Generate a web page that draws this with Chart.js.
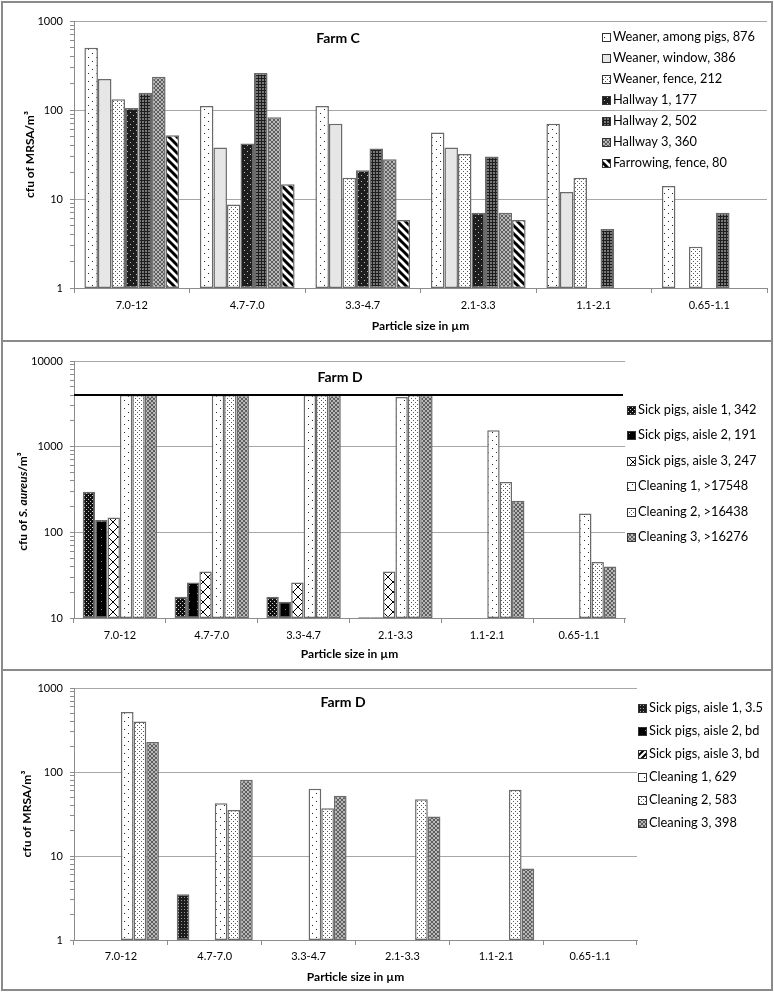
<!DOCTYPE html>
<html>
<head>
<meta charset="utf-8">
<script src="https://cdn.jsdelivr.net/npm/chart.js@4.4.0/dist/chart.umd.min.js"></script>
<style>
  body { margin: 0; background: #fff; }
  #page { position: relative; width: 774px; height: 992px; overflow: hidden; }
  .panel { position: absolute; left: 1px; width: 772px; border: 2px solid #8a8a8a; box-sizing: border-box; }
  canvas { position: absolute; left: 3px; }
</style>
</head>
<body>
<div id="page">
  <div class="panel" style="top:1px;height:341px"></div>
  <div class="panel" style="top:340px;height:331px"></div>
  <div class="panel" style="top:669px;height:322px"></div>
  <canvas id="farmC" width="768" height="337" style="top:3px"></canvas>
  <canvas id="farmDaureus" width="768" height="327" style="top:342px"></canvas>
  <canvas id="farmDmrsa" width="768" height="321" style="top:671px"></canvas>
</div>
<script>
// particle size classes (x axis)
var sizeBins = ['7.0-12', '4.7-7.0', '3.3-4.7', '2.1-3.3', '1.1-2.1', '0.65-1.1'];
var xTitle = 'Particle size in µm';

// Farm C, MRSA (cfu/m3)
var farmCLabels = ['Weaner, among pigs, 876', 'Weaner, window, 386', 'Weaner, fence, 212',
  'Hallway 1, 177', 'Hallway 2, 502', 'Hallway 3, 360', 'Farrowing, fence, 80'];
var weanerAmongPigs = [500, 111, 111, 56, 70, 14];
var weanerWindow    = [223, 38, 70, 38, 12, null];
var weanerFence     = [132, 8.7, 17.3, 32, 17.3, 2.9];
var hallway1        = [105, 42, 21, 7, null, null];
var hallway2        = [156, 260, 37, 30, 4.6, 7];
var hallway3        = [237, 83, 28, 7, null, null];
var farrowingFence  = [52, 14.6, 5.8, 5.8, null, null];

// Farm D, S. aureus (cfu/m3), cleaning bars are cut at the upper limit
var farmDAureusLabels = ['Sick pigs, aisle 1, 342', 'Sick pigs, aisle 2, 191', 'Sick pigs, aisle 3, 247',
  'Cleaning 1, >17548', 'Cleaning 2, >16438', 'Cleaning 3, >16276'];
var aureusAisle1   = [297, 17.7, 17.7, 10.2, null, null];
var aureusAisle2   = [139, 26, 15.5, 10.2, null, null];
var aureusAisle3   = [149, 35, 26, 35, null, null];
var aureusCleaning1 = [4000, 4000, 4000, 3800, 1550, 166];
var aureusCleaning2 = [4000, 4000, 4000, 4000, 388, 45];
var aureusCleaning3 = [4000, 4000, 4000, 4000, 233, 40];
var upperLimit = 4000;

// Farm D, MRSA (cfu/m3)
var farmDMrsaLabels = ['Sick pigs, aisle 1, 3.5', 'Sick pigs, aisle 2, bd', 'Sick pigs, aisle 3, bd',
  'Cleaning 1, 629', 'Cleaning 2, 583', 'Cleaning 3, 398'];
var mrsaAisle1    = [null, 3.5, null, null, null, null];
var mrsaAisle2    = [null, null, null, null, null, null];
var mrsaAisle3    = [null, null, null, null, null, null];
var mrsaCleaning1 = [518, 42.6, 63, null, null, null];
var mrsaCleaning2 = [400, 35.4, 37, 47.5, 61.4, null];
var mrsaCleaning3 = [227, 80.7, 52, 29.5, 7.1, null];

var FONT = 'Lato';
Chart.defaults.font.family = FONT;
Chart.defaults.color = '#000';

// fill patterns
function makePattern(size, bg, draw) {
  var c = document.createElement('canvas');
  c.width = size; c.height = size;
  var g = c.getContext('2d');
  g.fillStyle = bg;
  g.fillRect(0, 0, size, size);
  if (draw) draw(g);
  return g.createPattern(c, 'repeat');
}
function dots(pts, color) {
  return function (g) {
    g.fillStyle = color;
    pts.forEach(function (p) { g.fillRect(p[0], p[1], 1, 1); });
  };
}
function diag(size, width, down) {
  return function (g) {
    g.strokeStyle = '#000';
    g.lineWidth = width;
    g.beginPath();
    for (var k = -1; k <= 1; k++) {
      if (down) { g.moveTo(k * size - 1, -1); g.lineTo(k * size + size + 1, size + 1); }
      else { g.moveTo(k * size - 1, size + 1); g.lineTo(k * size + size + 1, -1); }
    }
    g.stroke();
  };
}

var pSparse  = makePattern(8, '#fff', dots([[1, 2], [5, 6]], '#222'));
var pDense   = makePattern(4, '#fff', dots([[0, 0], [2, 2]], '#555'));
var pWindow  = '#e6e6e6';
var pHall1   = makePattern(6, '#1e1e1e', dots([[1, 1], [4, 4]], '#bbb'));
var pHall2   = makePattern(3, '#787878', function (g) { g.fillStyle = '#1e1e1e'; g.fillRect(0, 0, 3, 1); g.fillRect(0, 0, 1, 3); });
var pChecker = makePattern(4, '#5e5e5e', function (g) { g.fillStyle = '#b8b8b8'; g.fillRect(0, 0, 2, 2); g.fillRect(2, 2, 2, 2); });
var pStripes = makePattern(8, '#fff', diag(8, 3, true));
var pBlackDots = makePattern(4, '#111', dots([[1, 1], [3, 3]], '#d0d0d0'));
var pBlack   = makePattern(8, '#000', dots([[2, 3]], '#888'));
var pCross   = makePattern(10, '#fff', function (g) {
  g.strokeStyle = '#000'; g.lineWidth = 1; g.beginPath();
  g.moveTo(0, 0); g.lineTo(10, 10); g.moveTo(10, 0); g.lineTo(0, 10); g.stroke();
});
var pDarkGrid = makePattern(3, '#1c1c1c', dots([[1, 1]], '#9a9a9a'));
var pUp      = makePattern(6, '#fff', diag(6, 2, false));

function isPow10(v) {
  var l = Math.log10(v);
  return Math.abs(l - Math.round(l)) < 1e-9;
}

// legend, panel title, upper limit line and mixed-style y title
var panelExtras = {
  id: 'panelExtras',
  afterDraw: function (chart, args, o) {
    var ctx = chart.ctx;
    ctx.save();
    ctx.textBaseline = 'middle';
    // legend
    ctx.font = o.legendSize + 'px ' + FONT;
    chart.data.datasets.forEach(function (ds, i) {
      var y = Math.round(o.legendY + i * o.legendStep);
      ctx.fillStyle = ds.backgroundColor;
      ctx.fillRect(o.legendX, y - 4, 8, 8);
      ctx.strokeStyle = '#333';
      ctx.lineWidth = 1;
      ctx.strokeRect(o.legendX + 0.5, y - 3.5, 8, 8);
      ctx.fillStyle = '#000';
      ctx.textAlign = 'left';
      ctx.fillText(ds.label, o.legendX + 11, y);
    });
    // title
    ctx.font = 'bold 14px ' + FONT;
    ctx.textAlign = 'center';
    ctx.fillText(o.title, o.titleX, o.titleY);
    // upper limit line
    if (o.limit) {
      var yy = chart.scales.y.getPixelForValue(o.limit);
      ctx.strokeStyle = '#000';
      ctx.lineWidth = 2;
      ctx.beginPath();
      ctx.moveTo(chart.chartArea.left, yy);
      ctx.lineTo(chart.chartArea.right - 2, yy);
      ctx.stroke();
    }
    // y title with italic part
    if (o.yTitle) {
      var segs = o.yTitle;
      ctx.translate(o.yTitleX, (chart.chartArea.top + chart.chartArea.bottom) / 2 + o.yTitleShift);
      ctx.rotate(-Math.PI / 2);
      var total = 0;
      segs.forEach(function (s) { ctx.font = s[1] + 'bold 12px ' + FONT; total += ctx.measureText(s[0]).width; });
      var x = -total / 2;
      ctx.textAlign = 'left';
      segs.forEach(function (s) {
        ctx.font = s[1] + 'bold 12px ' + FONT;
        ctx.fillText(s[0], x, 0);
        x += ctx.measureText(s[0]).width;
      });
    }
    ctx.restore();
  }
};

function logAxis(min, max, title, titlePad) {
  return {
    type: 'logarithmic',
    min: min,
    max: max,
    afterBuildTicks: function (s) {
      s.ticks = s.ticks.filter(function (t) {
        var m = t.value / Math.pow(10, Math.floor(Math.log10(t.value) + 1e-9));
        return Math.abs(m - Math.round(m)) < 1e-6;
      });
    },
    afterFit: function (s) { s.width = 71; },
    ticks: {
      autoSkip: false,
      padding: 7,
      font: { size: 11 },
      callback: function (v) { return isPow10(v) ? String(v) : ''; }
    },
    grid: {
      color: function (c) { return c.tick && isPow10(c.tick.value) ? '#a6a6a6' : 'rgba(0,0,0,0)'; },
      tickColor: '#8c8c8c',
      tickLength: 4
    },
    border: { display: true, color: '#8c8c8c' },
    title: {
      display: !!title,
      text: title,
      font: { size: 12, weight: 'bold' },
      padding: { top: titlePad, bottom: 0 }
    }
  };
}

function catAxis(height, tickPad, titlePad) {
  return {
    afterFit: function (s) { s.height = height; },
    ticks: { padding: tickPad, font: { size: 11 } },
    grid: { drawOnChartArea: false, drawTicks: true, tickLength: 5, color: '#8c8c8c', offset: true },
    border: { display: true, color: '#8c8c8c' },
    title: {
      display: true,
      text: xTitle,
      font: { size: 12, weight: 'bold' },
      padding: { top: 0, bottom: titlePad }
    }
  };
}

function bars(labels, series, fills) {
  return series.map(function (d, i) {
    return {
      label: labels[i],
      data: d,
      backgroundColor: fills[i],
      borderColor: '#6a6a6a',
      borderWidth: 1.5,
      borderSkipped: false
    };
  });
}

function drawPanel(id, datasets, o) {
  return new Chart(document.getElementById(id), {
    type: 'bar',
    plugins: [panelExtras],
    data: { labels: sizeBins, datasets: datasets },
    options: {
      responsive: false,
      animation: false,
      layout: { padding: { top: o.top, right: o.right, bottom: 0, left: 0 } },
      datasets: { bar: { barPercentage: 1, categoryPercentage: o.cat } },
      scales: { x: o.x, y: o.y },
      plugins: {
        legend: { display: false },
        tooltip: { enabled: false },
        panelExtras: o.extras
      }
    }
  });
}

drawPanel('farmC',
  bars(farmCLabels,
    [weanerAmongPigs, weanerWindow, weanerFence, hallway1, hallway2, hallway3, farrowingFence],
    [pSparse, pWindow, pDense, pHall1, pHall2, pChecker, pStripes]),
  {
    top: 18, right: 4, cat: 0.82,
    x: catAxis(52, 6, 7),
    y: logAxis(1, 1000, 'cfu of MRSA/m³', 20),
    extras: { legendX: 599, legendY: 34, legendStep: 21, legendSize: 12.8, title: 'Farm C', titleX: 335, titleY: 35 }
  });

drawPanel('farmDaureus',
  bars(farmDAureusLabels,
    [aureusAisle1, aureusAisle2, aureusAisle3, aureusCleaning1, aureusCleaning2, aureusCleaning3],
    [pBlackDots, pBlack, pCross, pSparse, pDense, pChecker]),
  {
    top: 19, right: 146, cat: 0.81,
    x: catAxis(51, 6, 8),
    y: logAxis(10, 10000, '', 0),
    extras: {
      legendX: 624, legendY: 68, legendStep: 25.4, legendSize: 12.8, title: 'Farm D', titleX: 337, titleY: 35,
      limit: upperLimit,
      yTitle: [['cfu of ', ''], ['S. aureus', 'italic '], ['/m³', '']], yTitleX: 20, yTitleShift: 12
    }
  });

drawPanel('farmDmrsa',
  bars(farmDMrsaLabels,
    [mrsaAisle1, mrsaAisle2, mrsaAisle3, mrsaCleaning1, mrsaCleaning2, mrsaCleaning3],
    [pDarkGrid, pBlack, pUp, pSparse, pDense, pChecker]),
  {
    top: 17, right: 134, cat: 0.81,
    x: catAxis(52, 5, 8),
    y: logAxis(1, 1000, 'cfu of MRSA/m³', 17),
    extras: { legendX: 635, legendY: 37, legendStep: 22.9, legendSize: 12.8, title: 'Farm D', titleX: 340, titleY: 31 }
  });
</script>
</body>
</html>
